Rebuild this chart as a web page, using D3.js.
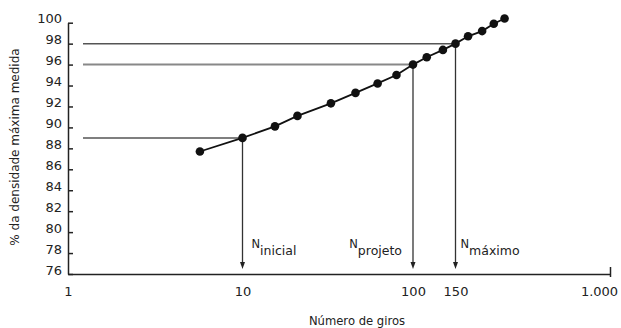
<!DOCTYPE html>
<html>
<head>
<meta charset="utf-8">
<script src="https://cdn.jsdelivr.net/npm/d3@7"></script>
<style>
  body { margin: 0; background: #fff; }
  text { font-family: "DejaVu Sans", sans-serif; fill: #222; }
</style>
</head>
<body>
<div id="chart"></div>
<script>
// data
const giros = [5.7, 10, 15.5, 21, 33, 46, 62, 80, 100, 114, 133, 150, 175, 208, 240, 274]
const densidade = [87.7, 89.0, 90.1, 91.1, 92.3, 93.3, 94.2, 95.0, 96.0, 96.7, 97.4, 98.0, 98.7, 99.2, 99.9, 100.4]
const xTicks = [1, 10, 100, 150, 1000]
const xTickLabels = ["1", "10", "100", "150", "1.000"]
const yTicks = [76, 78, 80, 82, 84, 86, 88, 90, 92, 94, 96, 98, 100]
const marcos = [10, 100, 150]
const marcoNomes = ["inicial", "projeto", "máximo"]

function drawChart() {
    const dataset = giros.map((g, i) => ({ giros: g, dens: densidade[i] }))

    const width = 621
    const height = 328

    const svg = d3.select("#chart")
      .append("svg")
        .attr("width", width)
        .attr("height", height)

    // scales -- the original axis is drawn schematically, so the log scale is piecewise
    const xScale = d3.scaleLog()
        .domain(xTicks)
        .range([68, 242.5, 413, 455.5, 610])

    const yScale = d3.scaleLinear()
        .domain([76, 100])
        .range([274, 22.7])

    const xAccessor = d => d.giros
    const yAccessor = d => d.dens

    // reference lines (horizontal then vertical with arrow)
    marcos.forEach((m, i) => {
        const d = dataset.find(p => p.giros === m)
        const x = xScale(m)
        const y = yScale(d.dens)
        svg.append("line")
            .attr("x1", xScale(1) + 15).attr("x2", x)
            .attr("y1", y).attr("y2", y)
            .attr("stroke", i === 1 ? "#888" : "#555")
            .attr("stroke-width", i === 1 ? 2 : 1.5)

        const tipY = yScale(76) - 5
        svg.append("line")
            .attr("x1", x).attr("x2", x)
            .attr("y1", y).attr("y2", tipY - 6)
            .attr("stroke", "#333")
            .attr("stroke-width", 1.3)
        svg.append("path")
            .attr("d", `M${x - 2.5},${tipY - 7} L${x + 2.5},${tipY - 7} L${x},${tipY} Z`)
            .attr("fill", "#222")

        const label = svg.append("text")
            .attr("x", x + (i === 1 ? -11 : i === 0 ? 9 : 5))
            .attr("y", 248.3)
            .attr("text-anchor", i === 1 ? "end" : "start")
        label.append("tspan").attr("font-size", 11.5).text("N")
        label.append("tspan").attr("font-size", 12.5).attr("dy", 6.5).text(marcoNomes[i])
    })

    // the curve
    const lineGenerator = d3.line()
        .x(d => xScale(xAccessor(d)))
        .y(d => yScale(yAccessor(d)))

    svg.append("path")
        .attr("d", lineGenerator(dataset))
        .attr("fill", "none")
        .attr("stroke", "#111")
        .attr("stroke-width", 1.8)

    svg.selectAll("circle")
        .data(dataset)
        .enter().append("circle")
            .attr("cx", d => xScale(xAccessor(d)))
            .attr("cy", d => yScale(yAccessor(d)))
            .attr("r", 4.3)
            .attr("fill", "#111")

    // axes
    const yAxis = svg.append("g")
        .attr("transform", `translate(${xScale(1)},0)`)
        .call(d3.axisLeft(yScale)
            .tickValues(yTicks)
            .tickSizeInner(-5)
            .tickSizeOuter(0)
            .tickPadding(6))
    yAxis.selectAll("text")
        .attr("font-size", 13)
        .attr("font-family", "DejaVu Sans")
        .attr("fill", "#222")
        .attr("dy", "0.02em")

    const xAxis = svg.append("g")
        .attr("transform", `translate(0,${yScale(76)})`)
        .call(d3.axisBottom(xScale)
            .tickValues(xTicks)
            .tickFormat((d, i) => xTickLabels[i])
            .tickSize(0)
            .tickPadding(13))
    xAxis.selectAll("text")
        .attr("font-size", 13)
        .attr("font-family", "DejaVu Sans")
        .attr("fill", "#222")
    xAxis.selectAll(".tick").filter(d => d === 1000)
        .select("text").attr("dx", -11)
    xAxis.selectAll(".tick").filter(d => d === 1000)
        .select("line").attr("y1", -7).attr("y2", 3)

    svg.selectAll(".domain, .tick line")
        .attr("stroke", "#222")
        .attr("stroke-width", 1.5)

    // titles
    svg.append("text")
        .attr("x", 357)
        .attr("y", 325)
        .attr("text-anchor", "middle")
        .attr("font-size", 11.6)
        .text("Número de giros")

    svg.append("text")
        .attr("transform", `translate(19,147) rotate(-90)`)
        .attr("text-anchor", "middle")
        .attr("font-size", 12)
        .text("% da densidade máxima medida")
}

drawChart()
</script>
</body>
</html>
